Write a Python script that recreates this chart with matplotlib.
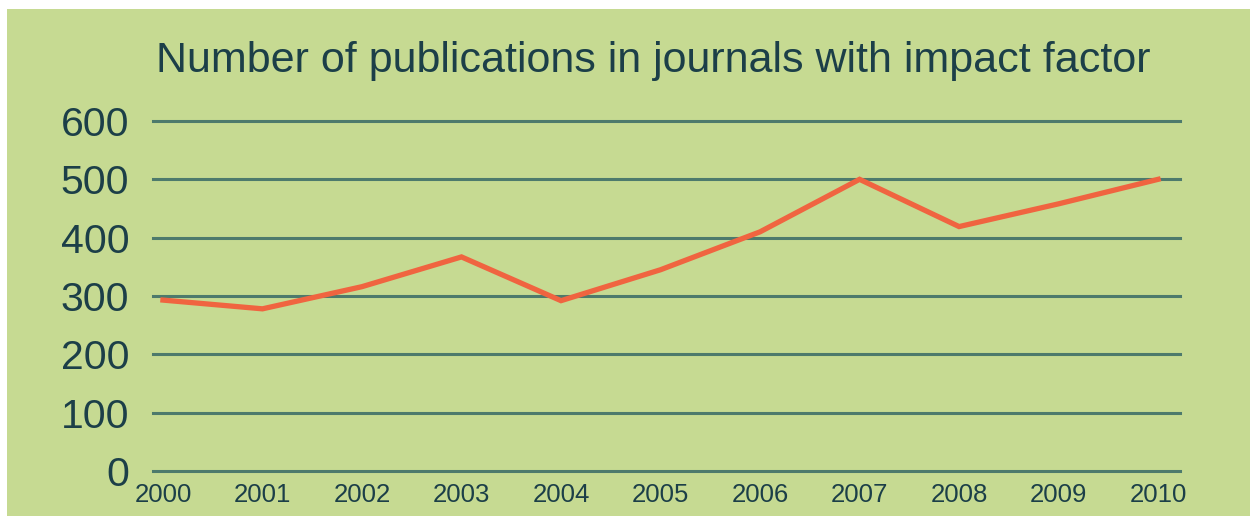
import matplotlib
matplotlib.use("Agg")
import matplotlib.pyplot as plt
from matplotlib.patches import Rectangle

# values
years = ['2000', '2001', '2002', '2003', '2004', '2005',
         '2006', '2007', '2008', '2009', '2010']
publications = [293, 278, 316, 367, 292, 345, 410, 500, 419, 458, 500]
y_ticks = [0, 100, 200, 300, 400, 500, 600]

title = 'Number of publications in journals with impact factor'

bg_green = '#c6da92'
grid_col = '#4d7a6c'
line_col = '#f06440'
text_col = '#1c3f48'

fig = plt.figure(figsize=(12.5, 5.22), dpi=100, facecolor='white')

# green panel (white margin left/top/bottom), kept behind the axes
fig.patches.append(Rectangle((7 / 1250, 1 - 516 / 522), 1 - 7 / 1250, (516 - 9) / 522,
                             transform=fig.transFigure, facecolor=bg_green,
                             edgecolor='none', zorder=-10))

ax = fig.add_axes([153 / 1250, 1 - 471 / 522, (1180 - 153) / 1250, (471 - 121) / 522])
ax.set_facecolor('none')
ax.set_zorder(5)

x = list(range(len(years)))
ax.plot(x, publications, color=line_col, lw=3.8, solid_joinstyle='miter', zorder=3)

for t in y_ticks:
    ax.axhline(t, color=grid_col, lw=2.2, clip_on=False, zorder=1)

ax.set_xlim(-0.1, 10.22)
ax.set_ylim(0, 600)
ax.set_yticks(y_ticks)
ax.set_yticklabels([str(t) for t in y_ticks], fontsize=29.5, color=text_col,
                   family=['Liberation Sans', 'DejaVu Sans'])
ax.set_xticks(x)
ax.set_xticklabels(years, fontsize=18.5, color=text_col,
                   family=['Liberation Sans Narrow', 'Liberation Sans', 'DejaVu Sans'])
ax.tick_params(axis='y', length=0, pad=17)
ax.tick_params(axis='x', length=0, pad=9)
for s in ax.spines.values():
    s.set_visible(False)

fig.text(653 / 1250, 1 - 72 / 522, title, ha='center', va='baseline',
         fontsize=31, color=text_col, family=['Liberation Sans', 'DejaVu Sans'],
         zorder=6)

fig.savefig('out.png', dpi=100, facecolor='white')
